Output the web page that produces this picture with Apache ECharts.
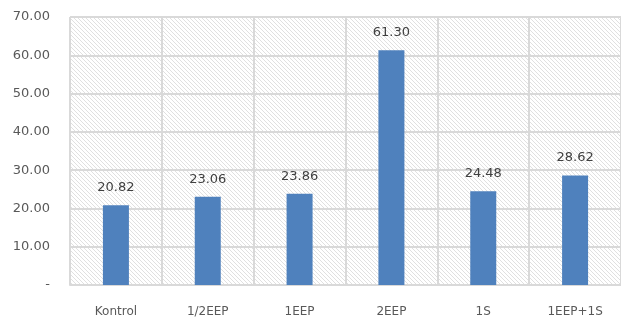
<!DOCTYPE html>
<html>
<head>
<meta charset="utf-8">
<script src="https://cdn.jsdelivr.net/npm/echarts@6/dist/echarts.min.js"></script>
<style>
  html, body { margin: 0; padding: 0; background: #fff; }
  #main { width: 621px; height: 321px; }
</style>
</head>
<body>
<div id="main"></div>
<script>
var categories = ['Kontrol', '1/2EEP', '1EEP', '2EEP', '1S', '1EEP+1S']
var values = [20.82, 23.06, 23.86, 61.30, 24.48, 28.62]
var yTickLabels = ['-', '10.00', '20.00', '30.00', '40.00', '50.00', '60.00', '70.00']

// diagonal hatch for the plot area (pixel staircase, "\" direction)
function makeHatch() {
  var n = 4
  var c = document.createElement('canvas')
  c.width = n
  c.height = n
  var ctx = c.getContext('2d')
  ctx.fillStyle = '#fff'
  ctx.fillRect(0, 0, n, n)
  ctx.fillStyle = '#e0e0e0'
  for (var i = 0; i < n; i++) {
    ctx.fillRect(i, i, 1, 1)
  }
  return c
}

var chart = echarts.init(document.getElementById('main'))
var font = 'DejaVu Sans'

var option = {
  animation: false,
  grid: {
    left: 70,
    top: 17,
    width: 554,
    height: 268,
    show: true,
    borderWidth: 0,
    backgroundColor: { image: makeHatch(), repeat: 'repeat' }
  },
  xAxis: {
    type: 'category',
    data: categories,
    axisLine: { show: true, lineStyle: { color: '#d9d9d9', width: 2 } },
    axisTick: { show: false },
    splitLine: { show: true, interval: 0, lineStyle: { color: '#d9d9d9', width: 2 } },
    axisLabel: { color: '#595959', fontFamily: font, fontSize: 12, margin: 21 }
  },
  yAxis: {
    type: 'value',
    min: 0,
    max: 70,
    interval: 10,
    axisLine: { show: false },
    axisTick: { show: false },
    splitLine: { lineStyle: { color: '#d9d9d9', width: 2 } },
    axisLabel: {
      color: '#595959',
      fontFamily: font,
      fontSize: 13,
      margin: 20,
      formatter: function (v) { return yTickLabels[Math.round(v / 10)] }
    }
  },
  series: [
    {
      type: 'bar',
      data: values,
      barWidth: 26,
      itemStyle: { color: '#4f81bd' },
      label: {
        show: true,
        position: 'top',
        distance: 11,
        color: '#404040',
        fontFamily: font,
        fontSize: 13,
        formatter: function (p) { return p.value.toFixed(2) }
      }
    }
  ]
}

chart.setOption(option)
</script>
</body>
</html>
